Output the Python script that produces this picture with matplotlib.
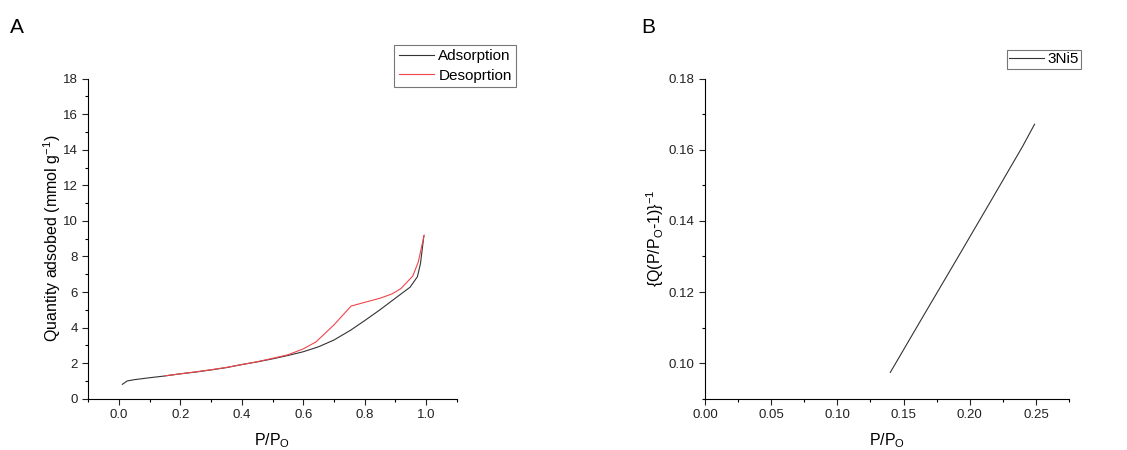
import matplotlib.pyplot as plt
from matplotlib.ticker import MultipleLocator

plt.rcParams['font.family'] = ['Liberation Sans', 'DejaVu Sans']
plt.rcParams['mathtext.default'] = 'regular'

# panel A: isotherm
ads_x = [0.011, 0.027, 0.05, 0.1, 0.15, 0.2, 0.25, 0.3, 0.35, 0.4, 0.45, 0.5, 0.55, 0.6,
         0.65, 0.7, 0.755, 0.8, 0.85, 0.9, 0.948, 0.972, 0.982, 0.993]
ads_y = [0.81, 1.0, 1.07, 1.18, 1.28, 1.4, 1.5, 1.62, 1.75, 1.92, 2.07, 2.24, 2.43, 2.64,
         2.92, 3.3, 3.86, 4.39, 5.0, 5.65, 6.27, 6.86, 7.6, 9.15]
des_x = [0.994, 0.975, 0.957, 0.918, 0.89, 0.85, 0.8, 0.756, 0.7, 0.642, 0.6, 0.55, 0.5,
         0.45, 0.4, 0.35, 0.3, 0.25, 0.2, 0.15]
des_y = [9.2, 7.7, 6.9, 6.19, 5.9, 5.65, 5.42, 5.21, 4.15, 3.2, 2.8, 2.47, 2.27, 2.08,
         1.92, 1.76, 1.63, 1.51, 1.4, 1.29]

# panel B: BET plot
bet_x = [0.14, 0.165, 0.19, 0.215, 0.24, 0.249]
bet_y = [0.0974, 0.1133, 0.1291, 0.145, 0.1610, 0.1672]

fig = plt.figure(figsize=(11.27, 4.5), dpi=100)
axA = fig.add_axes([88.3/1127, 1-398.7/450, (456.7-88.3)/1127, (398.7-78.7)/450])
axB = fig.add_axes([705/1127, 1-398.7/450, (1069-705)/1127, (398.7-78.7)/450])

axA.plot(ads_x, ads_y, color='#333333', lw=0.8, label='Adsorption')
axA.plot(des_x, des_y, color='#f0464b', lw=0.8, label='Desoprtion')
axA.set_xlim(-0.1, 1.1)
axA.set_ylim(0, 18)
axA.xaxis.set_major_locator(MultipleLocator(0.2))
axA.xaxis.set_minor_locator(MultipleLocator(0.1))
axA.yaxis.set_major_locator(MultipleLocator(2))
axA.yaxis.set_minor_locator(MultipleLocator(1))
axA.set_xlabel('P/P$_O$', fontsize=11.5, labelpad=7)
axA.set_ylabel('Quantity adsobed (mmol g$^{-1}$)', fontsize=11.5, labelpad=0)
axA.legend(loc='upper left', bbox_to_anchor=(394/1127, 1-44.7/450), bbox_transform=fig.transFigure,
           fontsize=11, frameon=True, fancybox=False, edgecolor='#555555', handlelength=2.3,
           borderpad=0.3, labelspacing=0.35, handletextpad=0.3, borderaxespad=0)

axB.plot(bet_x, bet_y, color='#333333', lw=0.8, label='3Ni5')
axB.set_xlim(0, 0.275)
axB.set_ylim(0.09, 0.18)
axB.xaxis.set_major_locator(MultipleLocator(0.05))
axB.xaxis.set_minor_locator(MultipleLocator(0.025))
axB.yaxis.set_major_locator(MultipleLocator(0.02))
axB.yaxis.set_minor_locator(MultipleLocator(0.01))
axB.xaxis.set_major_formatter(lambda v, p: f'{v:.2f}')
axB.yaxis.set_major_formatter(lambda v, p: f'{v:.2f}')
axB.set_xlabel('P/P$_O$', fontsize=11.5, labelpad=7)
axB.set_ylabel('{Q(P/P$_O$-1)}$^{-1}$', fontsize=11.5, labelpad=2)
axB.legend(loc='upper left', bbox_to_anchor=(1007/1127, 1-50/450), bbox_transform=fig.transFigure,
           fontsize=11, frameon=True, fancybox=False, edgecolor='#555555', handlelength=2.3,
           borderpad=0.15, handletextpad=0.2, borderaxespad=0)

for ax in (axA, axB):
    ax.spines['top'].set_visible(False)
    ax.spines['right'].set_visible(False)
    ax.tick_params(which='major', direction='out', length=4, width=0.8, labelsize=9.5, colors='#222222')
    ax.tick_params(which='minor', direction='out', length=2.5, width=0.8)
    ax.get_legend().get_frame().set_linewidth(0.8)

fig.text(10/1127, 1-33/450, 'A', fontsize=15)
fig.text(641/1127, 1-33/450, 'B', fontsize=15)

fig.savefig('out.png', dpi=100)
